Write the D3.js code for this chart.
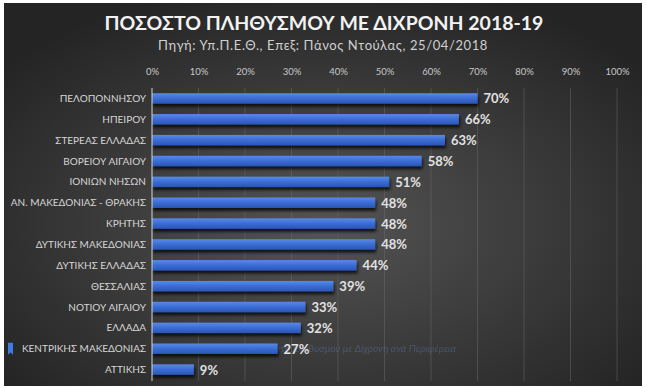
<!DOCTYPE html>
<html>
<head>
<meta charset="utf-8">
<script src="https://cdn.jsdelivr.net/npm/d3@7"></script>
<style>
  body { margin: 0; background: #fff; }
  svg { display: block; }
</style>
</head>
<body>
<script>
var width = 647;
var height = 388;

// data
var regions = ["ΠΕΛΟΠΟΝΝΗΣΟΥ", "ΗΠΕΙΡΟΥ", "ΣΤΕΡΕΑΣ ΕΛΛΑΔΑΣ", "ΒΟΡΕΙΟΥ ΑΙΓΑΙΟΥ", "ΙΟΝΙΩΝ ΝΗΣΩΝ",
  "ΑΝ. ΜΑΚΕΔΟΝΙΑΣ - ΘΡΑΚΗΣ", "ΚΡΗΤΗΣ", "ΔΥΤΙΚΗΣ ΜΑΚΕΔΟΝΙΑΣ", "ΔΥΤΙΚΗΣ ΕΛΛΑΔΑΣ", "ΘΕΣΣΑΛΙΑΣ",
  "ΝΟΤΙΟΥ ΑΙΓΑΙΟΥ", "ΕΛΛΑΔΑ", "ΚΕΝΤΡΙΚΗΣ ΜΑΚΕΔΟΝΙΑΣ", "ΑΤΤΙΚΗΣ"];
var shares = [70, 66, 63, 58, 51, 48, 48, 48, 44, 39, 33, 32, 27, 9];
var tickValues = [0, 10, 20, 30, 40, 50, 60, 70, 80, 90, 100];

var margin = { top: 88, right: 30, bottom: 8, left: 152 };

var svg = d3.select("body")
            .append("svg")
            .attr("width", width)
            .attr("height", height);

var defs = svg.append("defs");

// dark radial background
var bg = defs.append("radialGradient")
             .attr("id", "bg")
             .attr("cx", "50%").attr("cy", "58%").attr("r", "65%");
bg.append("stop").attr("offset", "0%").attr("stop-color", "#545454");
bg.append("stop").attr("offset", "100%").attr("stop-color", "#242424");

// bar gradient
var barGrad = defs.append("linearGradient")
                  .attr("id", "bar")
                  .attr("x1", 0).attr("y1", 0).attr("x2", 0).attr("y2", 1);
barGrad.append("stop").attr("offset", "0%").attr("stop-color", "#5a8ae6");
barGrad.append("stop").attr("offset", "45%").attr("stop-color", "#3d6fd6");
barGrad.append("stop").attr("offset", "100%").attr("stop-color", "#2a55b5");

var shadow = defs.append("filter").attr("id", "shadow")
                 .attr("x", "-5%").attr("y", "-30%").attr("width", "115%").attr("height", "190%");
shadow.append("feDropShadow")
      .attr("dx", 1).attr("dy", 3).attr("stdDeviation", 1.5)
      .attr("flood-color", "#000").attr("flood-opacity", 0.75);

svg.append("rect")
   .attr("x", 4).attr("y", 3)
   .attr("width", width - 9).attr("height", height - 5)
   .attr("fill", "url(#bg)");

// title
svg.append("text")
   .attr("x", 324).attr("y", 30)
   .attr("text-anchor", "middle")
   .style("font-family", "Lato, 'Open Sans', sans-serif")
   .style("font-weight", "bold")
   .style("font-size", "19.5px")
   .attr("fill", "#f2f2f2")
   .text("ΠΟΣΟΣΤΟ ΠΛΗΘΥΣΜΟΥ ΜΕ ΔΙΧΡΟΝΗ 2018-19");

svg.append("text")
   .attr("x", 323).attr("y", 50)
   .attr("text-anchor", "middle")
   .style("font-family", "Lato, 'Open Sans', sans-serif")
   .style("font-size", "13px")
   .style("letter-spacing", "0.6px")
   .attr("fill", "#d0d0d0")
   .text("Πηγή: Υπ.Π.Ε.Θ., Επεξ: Πάνος Ντούλας, 25/04/2018");

var xScale = d3.scaleLinear().domain([0, 100]).range([margin.left, 617]);
var yScale = d3.scaleBand()
               .domain(regions)
               .range([margin.top, height - margin.bottom])
               .paddingInner(0.5)
               .paddingOuter(0.25);

// vertical gridlines
svg.append("g")
   .selectAll("line")
   .data(tickValues.slice(1))
   .enter()
   .append("line")
   .attr("x1", function(d) { return xScale(d); })
   .attr("x2", function(d) { return xScale(d); })
   .attr("y1", margin.top)
   .attr("y2", 381)
   .attr("stroke", "#6a6a6a")
   .attr("stroke-opacity", 0.5)
   .attr("stroke-width", 1);

// top axis labels
var topAxis = d3.axisTop(xScale)
                .tickValues(tickValues)
                .tickSize(0)
                .tickFormat(function(d) { return d + "%"; });

var axisG = svg.append("g")
               .attr("transform", "translate(0, 78)")
               .call(topAxis);
axisG.select(".domain").remove();
axisG.selectAll("text")
     .style("font-family", "Lato, 'Open Sans', sans-serif")
     .style("font-size", "9.5px")
     .attr("fill", "#c8c8c8");

// faint caption showing through near the bottom (sits behind the bars)
svg.append("text")
   .attr("x", 195)
   .attr("y", yScale("ΚΕΝΤΡΙΚΗΣ ΜΑΚΕΔΟΝΙΑΣ") + yScale.bandwidth() / 2)
   .attr("dy", "0.35em")
   .style("font-family", "Lato, 'Open Sans', sans-serif")
   .style("font-style", "italic")
   .style("font-size", "10px")
   .attr("fill", "#5a6f9a")
   .attr("opacity", 0.5)
   .text("Διάγραμμα 4 Ποσοστό πληθυσμού με Δίχρονη ανά Περιφέρεια");

// bars
svg.append("g")
   .selectAll("rect")
   .data(shares)
   .enter()
   .append("rect")
   .attr("x", xScale(0))
   .attr("y", function(d, i) { return yScale(regions[i]); })
   .attr("width", function(d) { return xScale(d) - xScale(0); })
   .attr("height", yScale.bandwidth())
   .attr("fill", "url(#bar)")
   .attr("filter", "url(#shadow)");

// baseline
svg.append("line")
   .attr("x1", xScale(0)).attr("x2", xScale(0))
   .attr("y1", margin.top).attr("y2", 381)
   .attr("stroke", "#d8d8d8")
   .attr("stroke-width", 1);

// category labels
svg.append("g")
   .selectAll("text")
   .data(regions)
   .enter()
   .append("text")
   .attr("x", 146)
   .attr("y", function(d) { return yScale(d) + yScale.bandwidth() / 2; })
   .attr("dy", "0.35em")
   .attr("text-anchor", "end")
   .style("font-family", "Lato, 'Open Sans', sans-serif")
   .style("font-size", "10px")
   .attr("fill", "#d6d6d6")
   .text(function(d) { return d; });

// value labels
svg.append("g")
   .selectAll("text")
   .data(shares)
   .enter()
   .append("text")
   .attr("x", function(d) { return xScale(d) + 6; })
   .attr("y", function(d, i) { return yScale(regions[i]) + yScale.bandwidth() / 2; })
   .attr("dy", "0.38em")
   .style("font-family", "Lato, 'Open Sans', sans-serif")
   .style("font-weight", "bold")
   .style("font-size", "13px")
   .attr("fill", "#e2e2e2")
   .text(function(d) { return d + "%"; });

// bookmark marker at left
var by = yScale("ΚΕΝΤΡΙΚΗΣ ΜΑΚΕΔΟΝΙΑΣ") + yScale.bandwidth() / 2;
svg.append("path")
   .attr("d", "M8," + (by - 6) + " h5 v12 l-2.5,-2.5 l-2.5,2.5 z")
   .attr("fill", "#3f7be0");
</script>
</body>
</html>
